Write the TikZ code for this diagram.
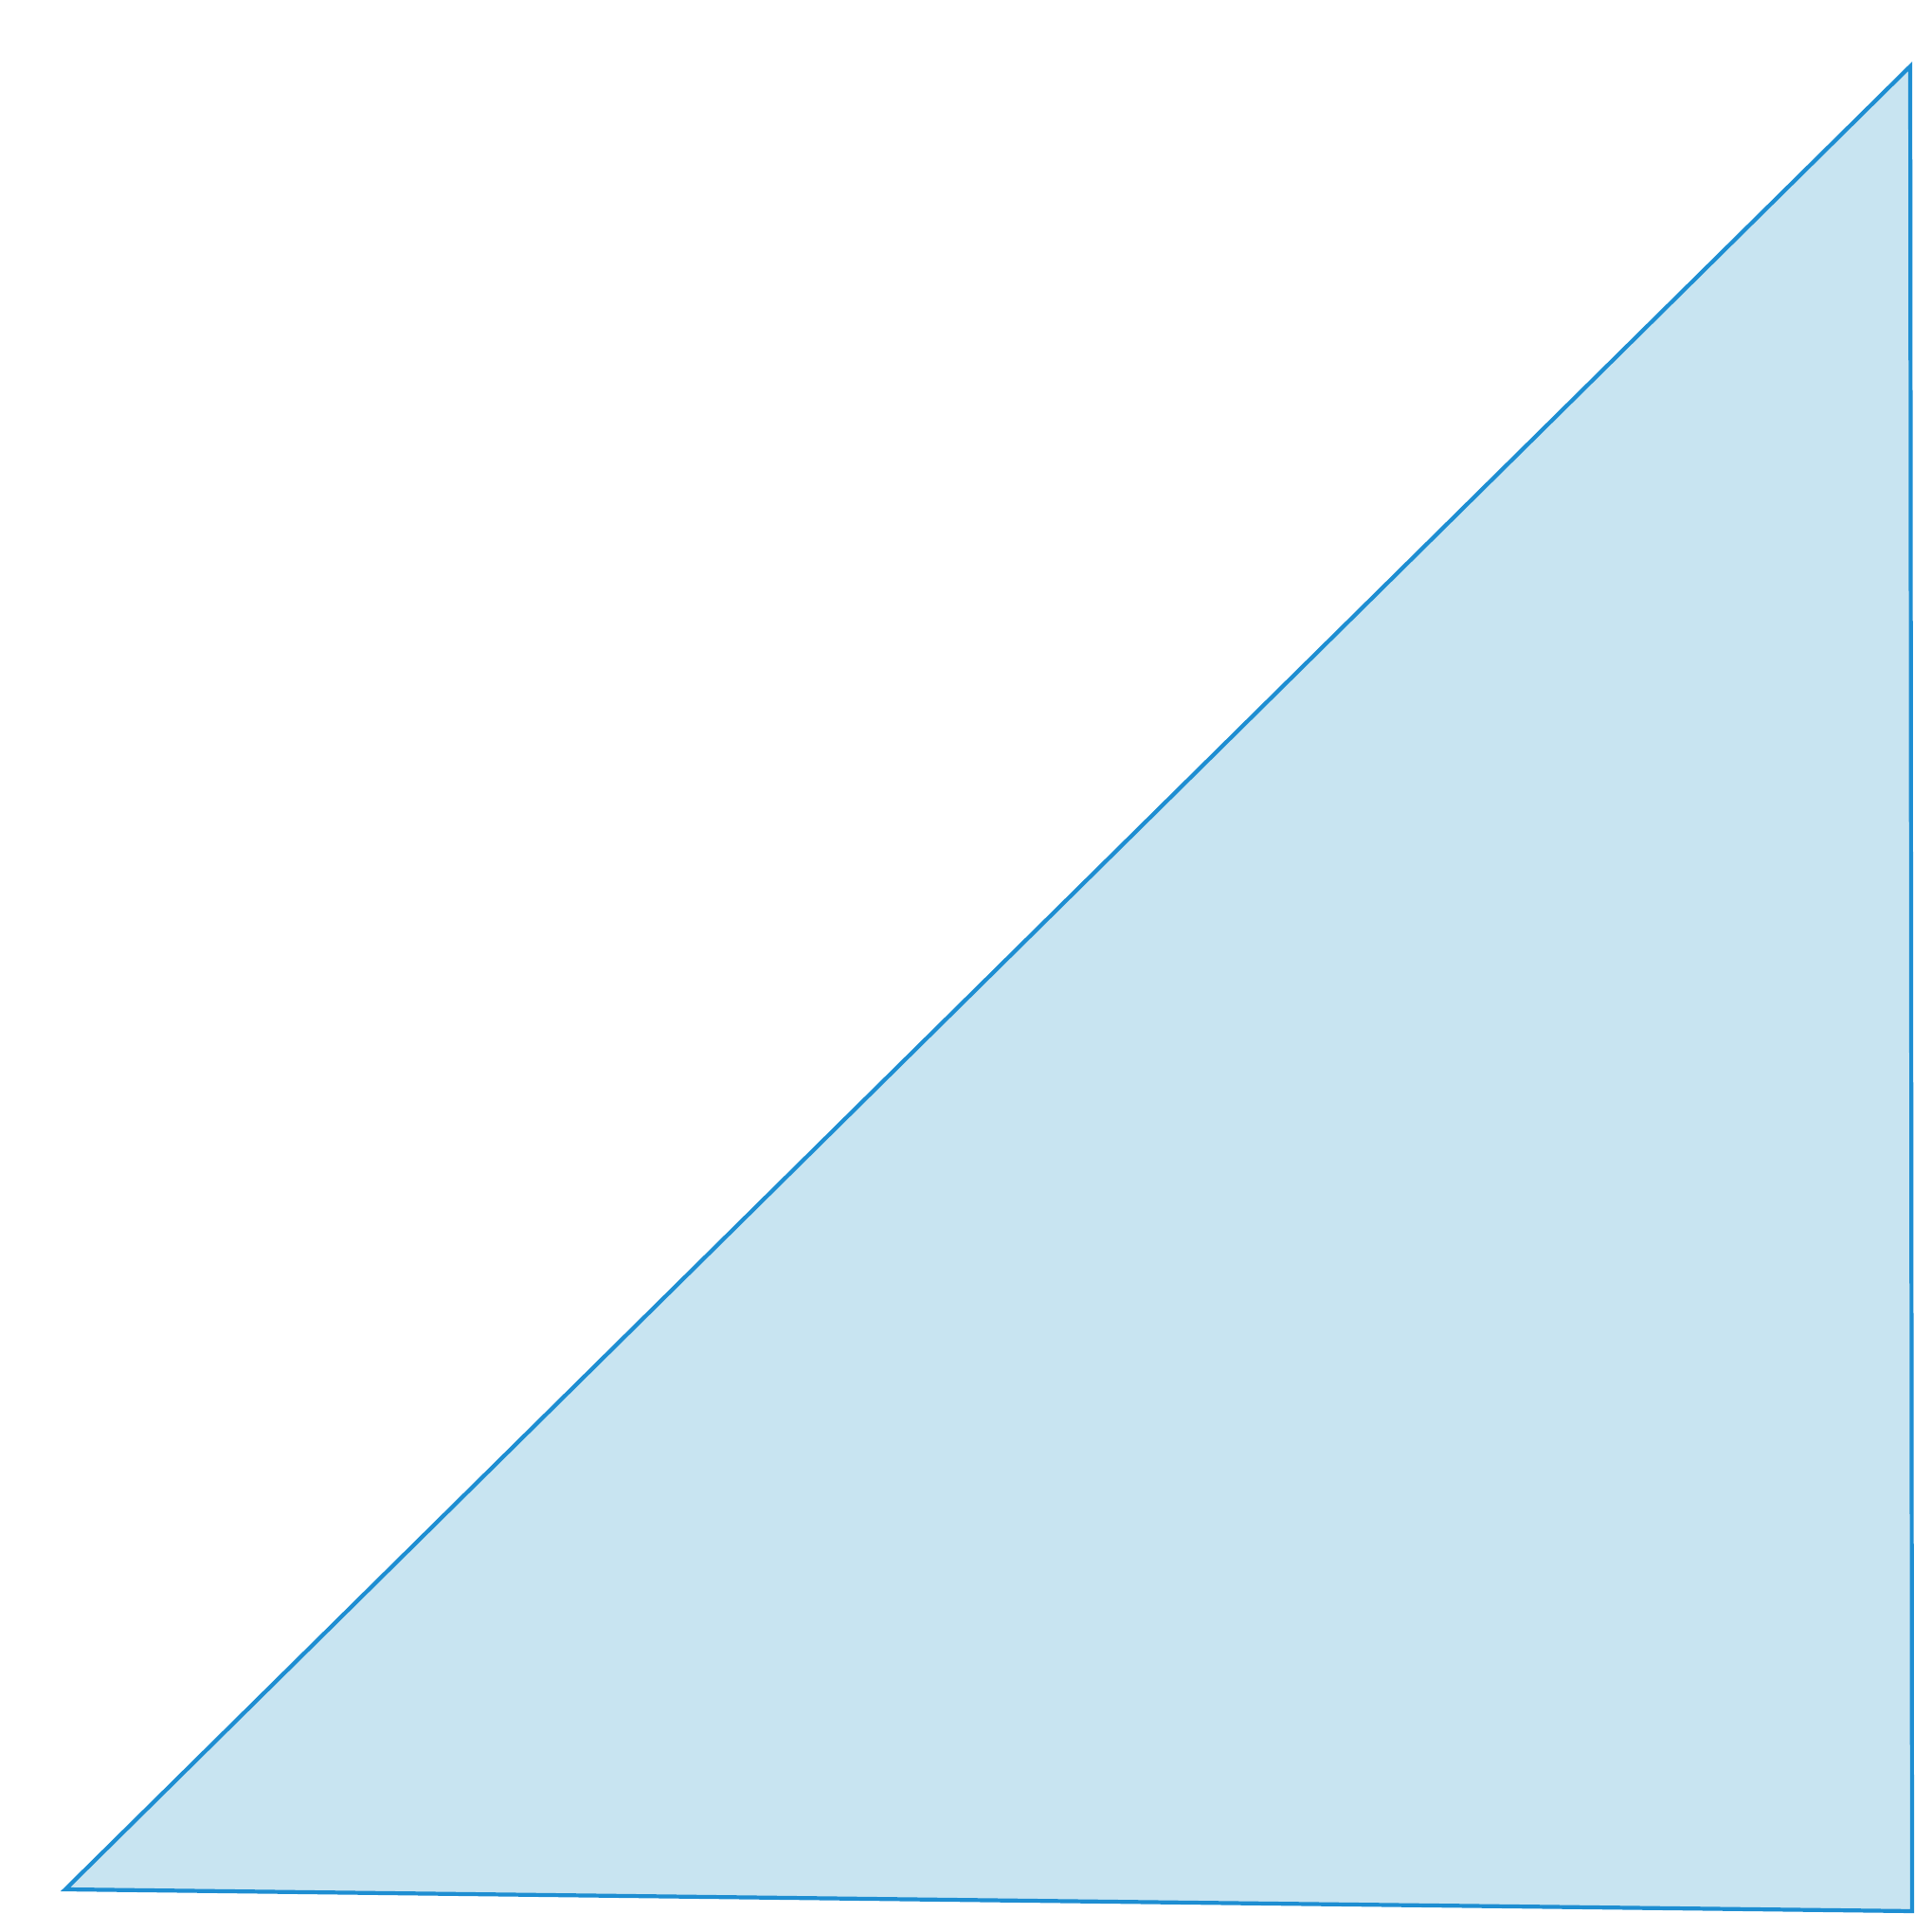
\documentclass[tikz,border=0pt]{standalone}
\usepackage{tikz}

\definecolor{edgeBlue}{RGB}{30,142,210}
\definecolor{fillBlue}{RGB}{200,228,241}

\begin{document}
\begin{tikzpicture}[
  triangle/.style={
    draw=edgeBlue,
    fill=fillBlue,
    line width=1.2pt,
    line join=miter
  }
]

\useasboundingbox (0,0) rectangle (20.39,20.39);

\coordinate (apex) at (20.16,19.69);
\coordinate (leftCorner) at (0.69,0.45);
\coordinate (rightCorner) at (20.18,0.22);

\draw[triangle] (leftCorner) -- (apex) -- (rightCorner) -- cycle;

\end{tikzpicture}
\end{document}
